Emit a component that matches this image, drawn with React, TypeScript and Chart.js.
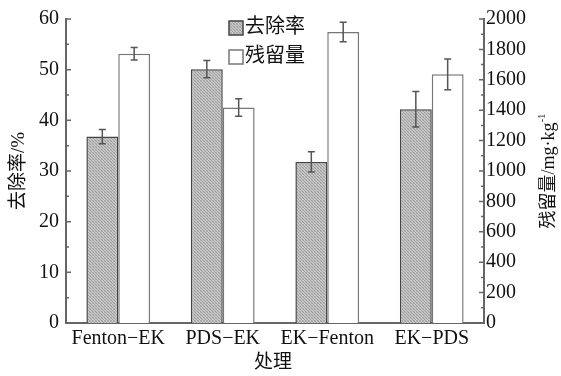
import React, { useEffect, useRef } from "react";
import { Chart, registerables } from "chart.js";
Chart.register(...registerables);

const categories = ["Fenton−EK", "PDS−EK", "EK−Fenton", "EK−PDS"];
const seriesNames = ["去除率", "残留量"];
const removalRate = [36.8, 50.1, 31.8, 42.2];
const removalErr = [1.4, 1.7, 2.0, 3.5];
const residual = [1771, 1418, 1915, 1636];
const residualErr = [41, 58, 64, 101];
const leftMax = 60;
const leftStep = 10;
const rightMax = 2000;
const rightStep = 200;
const xTitle = "处理";
const leftTitle = "去除率/%";
const rightTitle = "残留量/mg·kg";
const rightTitleSup = "-1";

const FONT = "'Liberation Serif', 'Noto Sans CJK SC', serif";

function makePattern(): CanvasPattern | string {
  const c = document.createElement("canvas");
  c.width = 3;
  c.height = 3;
  const g = c.getContext("2d");
  if (!g) return "#b4b4b4";
  g.fillStyle = "#c8c8c8";
  g.fillRect(0, 0, 3, 3);
  g.fillStyle = "#a2a2a2";
  g.fillRect(0, 0, 1, 1);
  g.fillRect(1, 1, 1, 1);
  g.fillRect(2, 2, 1, 1);
  g.fillStyle = "#b6b6b6";
  g.fillRect(2, 0, 1, 1);
  g.fillRect(0, 2, 1, 1);
  const p = g.createPattern(c, "repeat");
  return p || "#b4b4b4";
}

const extrasPlugin = {
  id: "extras",
  afterDatasetsDraw(chart: any) {
    const ctx = chart.ctx;
    const errs = [removalErr, residualErr];
    chart.data.datasets.forEach((ds: any, di: number) => {
      const meta = chart.getDatasetMeta(di);
      const ys = chart.scales[ds.yAxisID];
      meta.data.forEach((bar: any, i: number) => {
        const v = ds.data[i];
        const e = errs[di][i];
        const yTop = ys.getPixelForValue(v + e);
        const yBot = ys.getPixelForValue(v - e);
        const x = bar.x;
        ctx.save();
        ctx.strokeStyle = "#555";
        ctx.lineWidth = 1.5;
        ctx.beginPath();
        ctx.moveTo(x, yTop);
        ctx.lineTo(x, yBot);
        ctx.moveTo(x - 3.5, yTop);
        ctx.lineTo(x + 3.5, yTop);
        ctx.moveTo(x - 3.5, yBot);
        ctx.lineTo(x + 3.5, yBot);
        ctx.stroke();
        ctx.restore();
      });
    });
  },
  afterDraw(chart: any) {
    const ctx = chart.ctx;
    const area = chart.chartArea;
    const yl = chart.scales.y;
    const yr = chart.scales.y1;
    ctx.save();
    ctx.strokeStyle = "#666";
    ctx.lineWidth = 1.5;
    ctx.beginPath();
    for (let v = 0; v <= leftMax; v += leftStep / 2) {
      const y = yl.getPixelForValue(v);
      const len = v % leftStep === 0 ? 5 : 3;
      ctx.moveTo(area.left, y);
      ctx.lineTo(area.left + len, y);
    }
    for (let v = 0; v <= rightMax; v += rightStep / 2) {
      const y = yr.getPixelForValue(v);
      const len = v % rightStep === 0 ? 5 : 3;
      ctx.moveTo(area.right, y);
      ctx.lineTo(area.right - len, y);
    }
    ctx.stroke();

    // axis titles
    ctx.fillStyle = "#111";
    ctx.font = `19px ${FONT}`;
    ctx.textAlign = "center";
    ctx.textBaseline = "middle";
    ctx.fillText(xTitle, (area.left + area.right) / 2 - 2, 363);

    ctx.save();
    ctx.translate(19, (area.top + area.bottom) / 2);
    ctx.rotate(-Math.PI / 2);
    ctx.fillText(leftTitle, 0, 0);
    ctx.restore();

    ctx.save();
    ctx.font = `18px ${FONT}`;
    const w1 = ctx.measureText(rightTitle).width;
    ctx.font = `11px ${FONT}`;
    const w2 = ctx.measureText(rightTitleSup).width;
    const total = w1 + w2;
    ctx.translate(549, (area.top + area.bottom) / 2);
    ctx.rotate(-Math.PI / 2);
    ctx.textAlign = "left";
    ctx.font = `18px ${FONT}`;
    ctx.fillText(rightTitle, -total / 2, 0);
    ctx.font = `11px ${FONT}`;
    ctx.fillText(rightTitleSup, -total / 2 + w1, -7);
    ctx.restore();

    // legend
    const fills = chart.data.datasets.map((d: any) => d.backgroundColor);
    const borders = chart.data.datasets.map((d: any) => d.borderColor);
    seriesNames.forEach((name, i) => {
      const cy = 28 + i * 29;
      ctx.fillStyle = fills[i];
      ctx.fillRect(229, cy - 7, 14, 14);
      ctx.strokeStyle = borders[i];
      ctx.lineWidth = 1.5;
      ctx.strokeRect(229, cy - 7, 14, 14);
      ctx.fillStyle = "#111";
      ctx.font = `20px ${FONT}`;
      ctx.textAlign = "left";
      ctx.textBaseline = "middle";
      ctx.fillText(name, 245, cy);
    });
    ctx.restore();
  },
};

export default function App() {
  const ref = useRef<HTMLCanvasElement | null>(null);
  useEffect(() => {
    document.body.style.margin = "0";
    if (!ref.current) return;
    const pattern = makePattern();
    const chart = new Chart(ref.current, {
      type: "bar",
      data: {
        labels: categories,
        datasets: [
          {
            label: seriesNames[0],
            data: removalRate,
            yAxisID: "y",
            backgroundColor: pattern as any,
            borderColor: "#444",
            borderWidth: 1.5,
            categoryPercentage: 0.61,
            barPercentage: 1.0,
          },
          {
            label: seriesNames[1],
            data: residual,
            yAxisID: "y1",
            backgroundColor: "#ffffff",
            borderColor: "#777",
            borderWidth: 1.5,
            categoryPercentage: 0.61,
            barPercentage: 1.0,
          },
        ],
      },
      options: {
        responsive: false,
        animation: false,
        layout: { padding: { top: 17, left: 0, right: 0, bottom: 0 } },
        plugins: { legend: { display: false }, tooltip: { enabled: false } },
        scales: {
          x: {
            grid: { display: false, drawTicks: false },
            border: { display: true, color: "#666", width: 2 },
            ticks: { color: "#111", font: { family: FONT, size: 20 }, padding: 4 },
            afterFit: (s: any) => {
              s.height = 53;
            },
          },
          y: {
            position: "left",
            min: 0,
            max: leftMax,
            grid: { display: false, drawTicks: false },
            border: { display: true, color: "#666", width: 2 },
            ticks: {
              stepSize: leftStep,
              color: "#111",
              font: { family: FONT, size: 20 },
              padding: 7,
              callback: (v: any) => String(v),
            },
            afterFit: (s: any) => {
              s.width = 66;
            },
          },
          y1: {
            position: "right",
            min: 0,
            max: rightMax,
            grid: { display: false, drawTicks: false },
            border: { display: true, color: "#666", width: 2 },
            ticks: {
              stepSize: rightStep,
              color: "#111",
              font: { family: FONT, size: 20 },
              padding: 2,
              callback: (v: any) => String(v),
            },
            afterFit: (s: any) => {
              s.width = 77;
            },
          },
        },
      },
      plugins: [extrasPlugin],
    });
    return () => chart.destroy();
  }, []);
  return <canvas ref={ref} width={561} height={376} style={{ display: "block" }} />;
}
